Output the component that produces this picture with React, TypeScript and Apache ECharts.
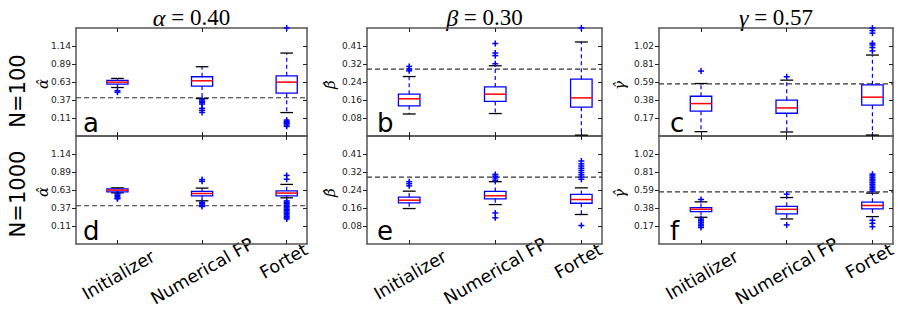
import React, { useEffect, useRef } from "react";
import * as echarts from "echarts";

// Estimators compared in every panel
const methods = ["Initializer", "Numerical FP", "Fortet"];
const methodPos = [1, 2, 3];

// Box statistics per method: [lower whisker, Q1, median, Q3, upper whisker]
const alphaN100 = [
  [0.547, 0.595, 0.624, 0.648, 0.677],
  [0.388, 0.567, 0.643, 0.701, 0.845],
  [0.188, 0.466, 0.624, 0.715, 1.041],
];
const alphaN100Fliers = [
  [0.5, 0.48],
  [0.37, 0.35, 0.33, 0.31, 0.25, 0.22, 0.19],
  [1.4, 0.08, 0.06, 0.045, 0.03, 0.01, -0.01],
];
const betaN100 = [
  [0.096, 0.133, 0.165, 0.186, 0.266],
  [0.098, 0.153, 0.186, 0.219, 0.315],
  [0.0, 0.127, 0.169, 0.254, 0.423],
];
const betaN100Fliers = [
  [0.312, 0.301, 0.292],
  [0.416, 0.373, 0.361, 0.324],
  [0.487],
];
const gammaN100 = [
  [0.007, 0.248, 0.338, 0.425, 0.575],
  [0.003, 0.224, 0.287, 0.378, 0.615],
  [-0.033, 0.319, 0.414, 0.56, 0.911],
];
const gammaN100Fliers = [
  [0.722],
  [0.655],
  [1.23, 1.2, 1.17, 1.05, 1.03, 1.0, 0.96],
];
const alphaN1000 = [
  [0.585, 0.6, 0.624, 0.643, 0.657],
  [0.471, 0.543, 0.576, 0.605, 0.653],
  [0.514, 0.543, 0.582, 0.614, 0.706],
];
const alphaN1000Fliers = [
  [0.57, 0.55, 0.53, 0.51, 0.5],
  [0.775, 0.75, 0.45, 0.43, 0.41, 0.39],
  [0.835, 0.78, 0.47, 0.45, 0.43, 0.41, 0.39, 0.37, 0.35, 0.33, 0.31, 0.29, 0.27, 0.25, 0.23, 0.21],
];
const betaN1000 = [
  [0.157, 0.183, 0.195, 0.209, 0.236],
  [0.175, 0.201, 0.215, 0.235, 0.279],
  [0.13, 0.181, 0.198, 0.221, 0.251],
];
const betaN1000Fliers = [
  [0.279, 0.27, 0.26],
  [0.312, 0.304, 0.296, 0.286, 0.137, 0.115],
  [0.373, 0.36, 0.35, 0.34, 0.33, 0.32, 0.31, 0.3, 0.29, 0.08],
];
const gammaN1000 = [
  [0.271, 0.338, 0.366, 0.386, 0.453],
  [0.251, 0.31, 0.365, 0.4, 0.504],
  [0.279, 0.37, 0.41, 0.449, 0.556],
];
const gammaN1000Fliers = [
  [0.481, 0.25, 0.23, 0.21, 0.19, 0.17, 0.15],
  [0.544, 0.181],
  [0.78, 0.76, 0.74, 0.72, 0.7, 0.68, 0.66, 0.64, 0.62, 0.6, 0.58, 0.236, 0.2, 0.16],
];

// Parameters (one per column)
const paramSymbols = ["α", "β", "γ"];
const paramHats = ["α\u0302", "β\u0302", "γ\u0302"];
const trueValues = [0.4, 0.3, 0.57];
const trueValueText = ["0.40", "0.30", "0.57"];
const yLimits = [
  [-0.148, 1.4],
  [-0.004, 0.4865],
  [-0.0445, 1.2305],
];
const yTickLabels = [
  ["0.11", "0.37", "0.63", "0.89", "1.14"],
  ["0.08", "0.16", "0.24", "0.32", "0.41"],
  ["0.17", "0.38", "0.59", "0.81", "1.02"],
];

// Rows: sample sizes
const rowLabels = ["N=100", "N=1000"];
const panelLetters = ["a", "b", "c", "d", "e", "f"];

const panelStats = [alphaN100, betaN100, gammaN100, alphaN1000, betaN1000, gammaN1000];
const panelFliers = [
  alphaN100Fliers, betaN100Fliers, gammaN100Fliers,
  alphaN1000Fliers, betaN1000Fliers, gammaN1000Fliers,
];

// Layout
const COLS = [
  { left: 76, width: 231, nameX: 50, nameBottom: 89, letterDx: 7 },
  { left: 367, width: 235, nameX: 337, nameBottom: 89, letterDx: 10 },
  { left: 659, width: 234, nameX: 627, nameBottom: 90, letterDx: 11 },
];
const ROWS = [
  { top: 28, height: 108 },
  { top: 136, height: 108 },
];
const X_RANGE = [0.51, 3.24];
const BOX_HALF = 0.125;
const CAP_HALF = 0.075;
const FLIER = 3;
const BLUE = "#0000ff";
const RED = "#ff0000";
const SPINE = "#555555";
// rotated category labels: angle, and offset of each label centre from its tick / the bottom axis
const CAT_ANGLE = (30 * Math.PI) / 180;
const CAT_LABEL_DY = [31, 27, 17];
const CAT_LABEL_DX = [1, 0, -3];

const tickValues = (lim: number[]) =>
  [1, 2, 3, 4, 5].map((k) => lim[0] + (k * (lim[1] - lim[0])) / 6);

function renderBox(_params: any, api: any) {
  const x = api.value(0);
  const lo = api.value(1);
  const q1 = api.value(2);
  const med = api.value(3);
  const q3 = api.value(4);
  const hi = api.value(5);
  const c = (xx: number, yy: number) => api.coord([xx, yy]);
  const bl = c(x - BOX_HALF, q1);
  const tr = c(x + BOX_HALF, q3);
  const mL = c(x - BOX_HALF, med);
  const mR = c(x + BOX_HALF, med);
  const pLo = c(x, lo);
  const pHi = c(x, hi);
  const pQ1 = c(x, q1);
  const pQ3 = c(x, q3);
  const cLoL = c(x - CAP_HALF, lo);
  const cLoR = c(x + CAP_HALF, lo);
  const cHiL = c(x - CAP_HALF, hi);
  const cHiR = c(x + CAP_HALF, hi);
  const whisker = { stroke: BLUE, lineWidth: 1.2, lineDash: [4, 3] };
  const cap = { stroke: "#000000", lineWidth: 1.3 };
  return {
    type: "group",
    children: [
      { type: "line", shape: { x1: pQ1[0], y1: pQ1[1], x2: pLo[0], y2: pLo[1] }, style: whisker },
      { type: "line", shape: { x1: pQ3[0], y1: pQ3[1], x2: pHi[0], y2: pHi[1] }, style: whisker },
      { type: "line", shape: { x1: cLoL[0], y1: cLoL[1], x2: cLoR[0], y2: cLoR[1] }, style: cap },
      { type: "line", shape: { x1: cHiL[0], y1: cHiL[1], x2: cHiR[0], y2: cHiR[1] }, style: cap },
      {
        type: "rect",
        shape: { x: bl[0], y: tr[1], width: tr[0] - bl[0], height: bl[1] - tr[1] },
        style: { fill: "transparent", stroke: BLUE, lineWidth: 1.3 },
      },
      { type: "line", shape: { x1: mL[0], y1: mL[1], x2: mR[0], y2: mR[1] }, style: { stroke: RED, lineWidth: 1.5 } },
    ],
  };
}

function renderFlier(_params: any, api: any) {
  const p = api.coord([api.value(0), api.value(1)]);
  const s = { stroke: BLUE, lineWidth: 1.5 };
  return {
    type: "group",
    children: [
      { type: "line", shape: { x1: p[0] - FLIER, y1: p[1], x2: p[0] + FLIER, y2: p[1] }, style: s },
      { type: "line", shape: { x1: p[0], y1: p[1] - FLIER, x2: p[0], y2: p[1] + FLIER }, style: s },
    ],
  };
}

function buildOption() {
  const grid: any[] = [];
  const xAxis: any[] = [];
  const yAxis: any[] = [];
  const series: any[] = [];
  for (let r = 0; r < 2; r++) {
    for (let c = 0; c < 3; c++) {
      const p = r * 3 + c;
      const lim = yLimits[c];
      const ticks = tickValues(lim);
      const labels = yTickLabels[c];
      grid.push({ left: COLS[c].left, width: COLS[c].width, top: ROWS[r].top, height: ROWS[r].height, show: false });
      const xBase = {
        type: "value",
        gridIndex: p,
        min: X_RANGE[0],
        max: X_RANGE[1],
        axisLine: { show: true, onZero: false, lineStyle: { color: SPINE, width: 1.5 } },
        axisTick: { show: true, inside: true, length: 4, customValues: methodPos, lineStyle: { color: "#222", width: 1 } },
        axisLabel: { show: false },
        splitLine: { show: false },
      };
      xAxis.push({ ...xBase, position: "bottom" });
      xAxis.push({ ...xBase, position: "top" });
      const yBase = {
        type: "value",
        gridIndex: p,
        min: lim[0],
        max: lim[1],
        axisLine: { show: true, onZero: false, lineStyle: { color: SPINE, width: 1.5 } },
        splitLine: { show: false },
      };
      yAxis.push({
        ...yBase,
        position: "left",
        axisTick: { show: true, inside: false, length: 4, customValues: ticks, lineStyle: { color: "#222", width: 1 } },
        axisLabel: {
          show: true,
          customValues: ticks,
          margin: 5,
          fontFamily: "DejaVu Sans",
          fontSize: 9,
          color: "#222",
          formatter: (v: number) => {
            const i = ticks.findIndex((t) => Math.abs(t - v) < 1e-6);
            return i >= 0 ? labels[i] : "";
          },
        },
      });
      yAxis.push({
        ...yBase,
        position: "right",
        axisTick: { show: true, inside: true, length: 4, customValues: ticks, lineStyle: { color: "#222", width: 1 } },
        axisLabel: { show: false },
      });

      series.push({
        type: "line",
        xAxisIndex: 2 * p,
        yAxisIndex: 2 * p,
        data: [
          [X_RANGE[0], trueValues[c]],
          [X_RANGE[1], trueValues[c]],
        ],
        symbol: "none",
        silent: true,
        lineStyle: { color: "#333", width: 1.2, type: [5, 3] },
        z: 1,
      });
      series.push({
        type: "custom",
        xAxisIndex: 2 * p,
        yAxisIndex: 2 * p,
        renderItem: renderBox,
        encode: { x: 0, y: [1, 2, 3, 4, 5] },
        data: panelStats[p].map((s, i) => [methodPos[i], ...s]),
        silent: true,
        z: 2,
      });
      const fl: number[][] = [];
      panelFliers[p].forEach((vals, i) => vals.forEach((v) => fl.push([methodPos[i], v])));
      series.push({
        type: "custom",
        xAxisIndex: 2 * p,
        yAxisIndex: 2 * p,
        renderItem: renderFlier,
        encode: { x: 0, y: 1 },
        data: fl,
        silent: true,
        z: 3,
      });
    }
  }
  return { animation: false, backgroundColor: "#ffffff", grid, xAxis, yAxis, series };
}

export default function App() {
  const ref = useRef<HTMLDivElement>(null);
  useEffect(() => {
    if (!ref.current) return;
    const chart = echarts.init(ref.current, null, { renderer: "svg" });
    chart.setOption(buildOption());

    const graphic: any[] = [];
    // Column titles
    for (let c = 0; c < 3; c++) {
      graphic.push({
        type: "text",
        x: COLS[c].left + COLS[c].width / 2,
        y: 17.5,
        style: {
          text: `{s|${paramSymbols[c]}}{n| = ${trueValueText[c]}}`,
          textAlign: "center",
          textVerticalAlign: "middle",
          rich: {
            s: { fontFamily: "Liberation Serif", fontStyle: "italic", fontSize: 24, fill: "#000" },
            n: { fontFamily: "Liberation Serif", fontSize: 23, fill: "#000" },
          },
        },
      });
    }
    // Row labels
    const rowCenters = [91, 194];
    for (let r = 0; r < 2; r++) {
      graphic.push({
        type: "text",
        x: 17.5,
        y: rowCenters[r],
        rotation: Math.PI / 2,
        style: {
          text: rowLabels[r],
          fontFamily: "DejaVu Sans",
          fontSize: 21,
          fill: "#000",
          textAlign: "center",
          textVerticalAlign: "middle",
        },
      });
    }
    for (let r = 0; r < 2; r++) {
      for (let c = 0; c < 3; c++) {
        const p = r * 3 + c;
        // y-axis name, written upwards from its lower end
        graphic.push({
          type: "text",
          x: COLS[c].nameX,
          y: ROWS[r].top + COLS[c].nameBottom - ROWS[0].top,
          rotation: Math.PI / 2,
          style: {
            text: paramHats[c],
            fontFamily: "DejaVu Serif",
            fontStyle: "italic",
            fontSize: 15,
            fill: "#000",
            textAlign: "left",
            textVerticalAlign: "bottom",
          },
        });
        // panel letter
        graphic.push({
          type: "text",
          x: COLS[c].left + COLS[c].letterDx,
          y: ROWS[r].top + ROWS[r].height - 13.5,
          style: {
            text: panelLetters[p],
            fontFamily: "DejaVu Sans",
            fontSize: 26,
            fill: "#000",
            textAlign: "left",
            textVerticalAlign: "middle",
          },
        });
      }
    }
    // Rotated category labels under the bottom row (each in its own rotated group)
    for (let c = 0; c < 3; c++) {
      const p = 3 + c;
      const axisY = chart.convertToPixel({ yAxisIndex: 2 * p } as any, yLimits[c][0]) as number;
      methods.forEach((m, i) => {
        const tx = chart.convertToPixel({ xAxisIndex: 2 * p } as any, methodPos[i]) as number;
        graphic.push({
          type: "group",
          x: tx + CAT_LABEL_DX[i],
          y: axisY + CAT_LABEL_DY[i],
          rotation: CAT_ANGLE,
          children: [
            {
              type: "text",
              x: 0,
              y: 0,
              style: {
                text: m,
                fontFamily: "DejaVu Sans",
                fontSize: 17.5,
                fill: "#000",
                textAlign: "center",
                textVerticalAlign: "middle",
              },
            },
          ],
        });
      });
    }
    chart.setOption({ graphic });
    return () => chart.dispose();
  }, []);
  return (
    <div
      ref={ref}
      style={{ position: "fixed", left: 0, top: 0, width: 905, height: 324, background: "#fff" }}
    />
  );
}
